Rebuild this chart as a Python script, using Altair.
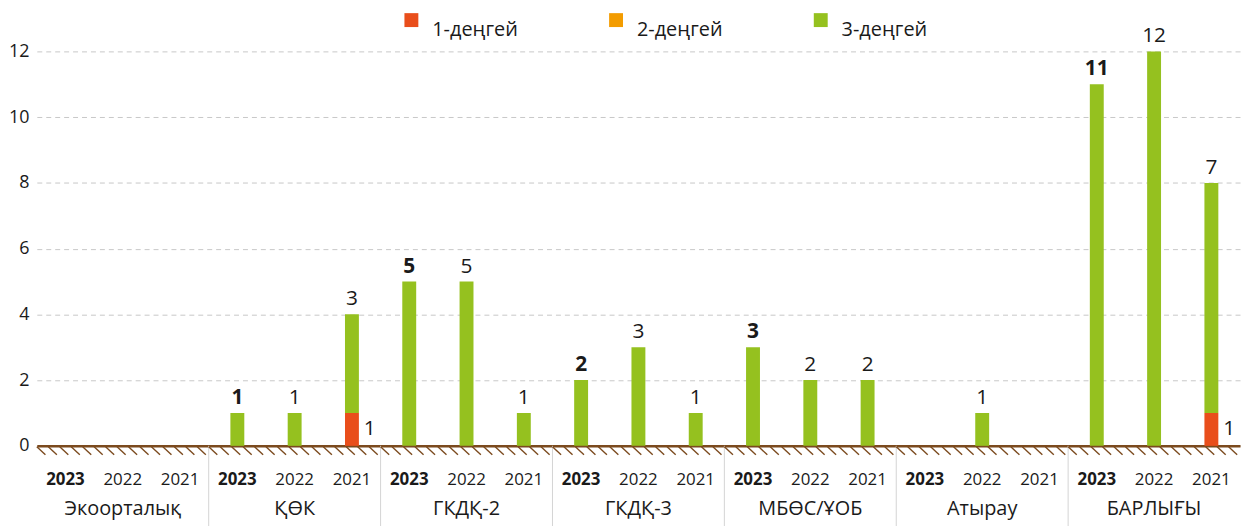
import altair as alt
import pandas as pd

groups = ["Экоорталық", "ҚӨК", "ГКДҚ-2", "ГКДҚ-3", "МБӨС/ҰОБ", "Атырау", "БАРЛЫҒЫ"]
years = ["2023", "2022", "2021"]
levels = ["1-деңгей", "2-деңгей", "3-деңгей"]
colors = ["#E94E1B", "#F39C00", "#95C11F"]

# values per group x year (2023, 2022, 2021)
level1 = [0, 0, 0, 0, 0, 1, 0, 0, 0, 0, 0, 0, 0, 0, 0, 0, 0, 0, 0, 0, 1]
level2 = [0, 0, 0, 0, 0, 0, 0, 0, 0, 0, 0, 0, 0, 0, 0, 0, 0, 0, 0, 0, 0]
level3 = [0, 0, 0, 1, 1, 3, 5, 5, 1, 2, 3, 1, 3, 2, 2, 0, 1, 0, 11, 12, 7]

y_ticks = [0, 2, 4, 6, 8, 10, 12]

FONT = "Open Sans"
TXT = "#1a1a1a"
BROWN = "#7B4A1E"
W, H = 1211, 397

keys, rows, tots = [], [], []
for gi, g in enumerate(groups):
    for yi, yr in enumerate(years):
        k = gi * 3 + yi
        key = f"{g}|{yr}"
        keys.append(key)
        for li, (lv, vals) in enumerate(zip(levels, [level1, level2, level3])):
            rows.append(dict(key=key, group=g, year=yr, level=lv, ord=li, value=vals[k]))
        tots.append(dict(key=key, year=yr, l1=level1[k], l3=level3[k],
                         total=level1[k] + level2[k] + level3[k], half=level1[k] / 2))
df = pd.DataFrame(rows)
tot = pd.DataFrame(tots)
gdf = pd.DataFrame(dict(group=groups, mid=[f"{g}|{years[1]}" for g in groups],
                        start=[f"{g}|{years[0]}" for g in groups]))
sep = gdf.iloc[1:]

xscale = alt.Scale(domain=keys, paddingInner=0, paddingOuter=0)


def xk(field, **kw):
    return alt.X(f"{field}:N", scale=xscale, axis=None, **kw)


yscale = alt.Scale(domain=[0, 12], nice=False)

bars = alt.Chart(df).mark_bar(size=14).encode(
    x=alt.X("key:N", sort=keys, scale=xscale,
            axis=alt.Axis(title=None, labelExpr="split(datum.label, '|')[1]", labelAngle=0,
                          ticks=False, domainColor=BROWN, domainWidth=2.5,
                          labelFontSize=17, labelFont=FONT, labelColor=TXT, labelPadding=26,
                          labelFontWeight=alt.condition("indexof(datum.value, '2023') >= 0",
                                                        alt.value("bold"), alt.value("normal")))),
    y=alt.Y("value:Q", stack="zero", scale=yscale,
            axis=alt.Axis(title=None, values=y_ticks, ticks=False, domain=False,
                          gridDash=[5, 4], gridColor="#c8c8c8", gridWidth=1,
                          labelFontSize=18, labelFont=FONT, labelColor=TXT, labelPadding=8)),
    color=alt.Color("level:N", scale=alt.Scale(domain=levels, range=colors),
                    legend=alt.Legend(title=None, orient="none", legendX=367, legendY=-41.5,
                                      direction="horizontal", columns=3, gridAlign="all",
                                      symbolType="square",
                                      symbolSize=196, symbolStrokeWidth=0,
                                      labelFontSize=20, labelFont=FONT, labelColor=TXT,
                                      labelBaseline="top",
                                      labelOffset=11, columnPadding=88)),
    order=alt.Order("ord:Q", sort="ascending"),
)

lab_base = alt.Chart(tot).transform_filter("datum.l3 > 0")
lab_bold = lab_base.transform_filter("datum.year == '2023'").mark_text(
    fontSize=21, font=FONT, fontWeight="bold", color=TXT, baseline="alphabetic", dy=-9
).encode(x=xk("key"), y=alt.Y("total:Q", scale=yscale), text="l3:Q")
lab_norm = lab_base.transform_filter("datum.year != '2023'").mark_text(
    fontSize=21, font=FONT, color=TXT, baseline="alphabetic", dy=-9
).encode(x=xk("key"), y=alt.Y("total:Q", scale=yscale), text="l3:Q")

lab_red = alt.Chart(tot).transform_filter("datum.l1 > 0").mark_text(
    fontSize=21, font=FONT, color=TXT, baseline="middle", align="left", dx=12
).encode(x=xk("key"), y=alt.Y("half:Q", scale=yscale), text="l1:Q")

glabels = alt.Chart(gdf).mark_text(fontSize=20, font=FONT, color=TXT, baseline="middle").encode(
    x=xk("mid"), y=alt.value(H + 64), text="group:N")

seps = alt.Chart(sep).mark_rule(color="#d4d4d4", strokeWidth=1).encode(
    x=xk("start", bandPosition=0), y=alt.value(H), y2=alt.value(H + 82))

hatch = alt.Chart(alt.sequence(0, 105, as_="i")).transform_calculate(
    i2="datum.i + 0.75").mark_rule(color=BROWN, strokeWidth=1.4).encode(
    x=alt.X("i:Q", scale=alt.Scale(domain=[0, 105], nice=False, zero=False), axis=None),
    x2="i2:Q", y=alt.value(H + 1), y2=alt.value(H + 9))

chart = alt.layer(seps, hatch, bars, lab_bold, lab_norm, lab_red, glabels).resolve_scale(
    x="independent"
).properties(
    width=W, height=H, autosize=alt.AutoSizeParams(type="none"),
    padding={"left": 29, "top": 42, "right": 4, "bottom": 80},
).configure_view(stroke=None)

chart.save("out.html", embed_options={"renderer": "svg", "actions": False})
